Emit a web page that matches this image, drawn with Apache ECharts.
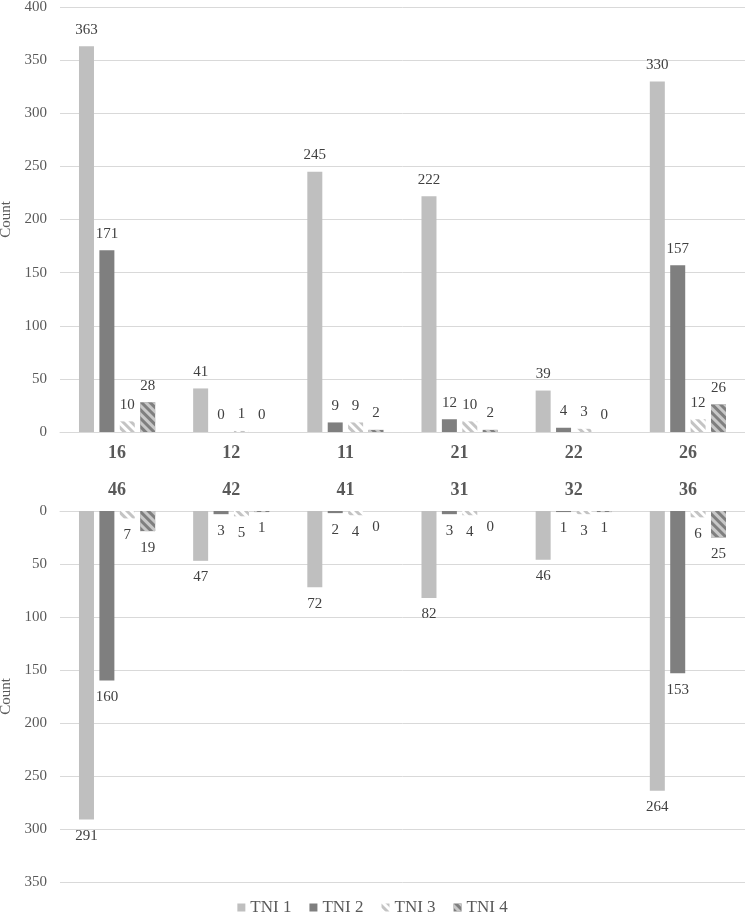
<!DOCTYPE html>
<html>
<head>
<meta charset="utf-8">
<script src="https://cdn.jsdelivr.net/npm/echarts@6/dist/echarts.min.js"></script>
<style>
  html, body { margin: 0; padding: 0; background: #fff; }
  #chart { width: 745px; height: 924px; }
</style>
</head>
<body>
<div id="chart"></div>
<script>
// upper jaw teeth and lower jaw teeth
const topTeeth = ['16', '12', '11', '21', '22', '26']
const bottomTeeth = ['46', '42', '41', '31', '32', '36']
const seriesNames = ['TNI 1', 'TNI 2', 'TNI 3', 'TNI 4']

const topTNI1 = [363, 41, 245, 222, 39, 330]
const topTNI2 = [171, 0, 9, 12, 4, 157]
const topTNI3 = [10, 1, 9, 10, 3, 12]
const topTNI4 = [28, 0, 2, 2, 0, 26]

const bottomTNI1 = [291, 47, 72, 82, 46, 264]
const bottomTNI2 = [160, 3, 2, 3, 1, 153]
const bottomTNI3 = [7, 5, 4, 4, 3, 6]
const bottomTNI4 = [19, 1, 0, 0, 1, 25]

const FONT = 'Liberation Serif'

// diagonal stripes via echarts decal
function stripes(fg) {
  return {
    symbol: 'rect',
    symbolSize: 1,
    color: fg,
    dashArrayX: [1, 0],
    dashArrayY: [3, 3],
    rotation: Math.PI / 4,
  }
}

const styles = [
  { color: '#BFBFBF' },
  { color: '#7F7F7F' },
  { color: '#FFFFFF', decal: stripes('#C4C4C4') },
  { color: '#7F7F7F', decal: stripes('#C8C8C8') },
]

const topData = [topTNI1, topTNI2, topTNI3, topTNI4]
const bottomData = [bottomTNI1, bottomTNI2, bottomTNI3, bottomTNI4]

function makeSeries(data, idx, grid) {
  return {
    name: seriesNames[idx],
    type: 'bar',
    xAxisIndex: grid,
    yAxisIndex: grid,
    data: data,
    barWidth: 15,
    barGap: '36%',
    itemStyle: styles[idx],
    label: {
      show: true,
      position: grid === 0 ? 'top' : 'bottom',
      distance: 9,
      color: '#404040',
      fontFamily: FONT,
      fontSize: 15,
    },
  }
}

const series = []
topData.forEach((d, i) => series.push(makeSeries(d, i, 0)))
bottomData.forEach((d, i) => series.push(makeSeries(d, i, 1)))

const yAxisCommon = {
  type: 'value',
  min: 0,
  interval: 50,
  name: 'Count',
  nameLocation: 'middle',
  nameGap: 30,
  nameTextStyle: { fontFamily: FONT, fontSize: 15, color: '#595959' },
  axisLine: { show: false },
  axisTick: { show: false },
  axisLabel: { fontFamily: FONT, fontSize: 15, color: '#595959', margin: 13 },
  splitLine: { lineStyle: { color: '#D9D9D9', width: 1 } },
}

const xAxisCommon = {
  type: 'category',
  axisTick: { show: false },
  axisLine: { lineStyle: { color: '#D9D9D9', width: 1 } },
  axisLabel: {
    fontFamily: FONT,
    fontSize: 18,
    fontWeight: 'bold',
    color: '#595959',
    margin: 12,
  },
}

const chart = echarts.init(document.getElementById('chart'))
chart.setOption({
  animation: false,
  backgroundColor: '#fff',
  legend: {
    data: seriesNames,
    bottom: 3,
    left: 'center',
    itemWidth: 8,
    itemHeight: 8,
    itemGap: 18,
    icon: 'rect',
    textStyle: { fontFamily: FONT, fontSize: 17, color: '#595959' },
  },
  grid: [
    { left: 60, right: 0, top: 7, height: 425, outerBoundsMode: 'none' },
    { left: 60, right: 0, top: 511, height: 371, outerBoundsMode: 'none' },
  ],
  xAxis: [
    Object.assign({}, xAxisCommon, { gridIndex: 0, data: topTeeth, position: 'bottom' }),
    Object.assign({}, xAxisCommon, { gridIndex: 1, data: bottomTeeth, position: 'top' }),
  ],
  yAxis: [
    Object.assign({}, yAxisCommon, { gridIndex: 0, max: 400 }),
    Object.assign({}, yAxisCommon, { gridIndex: 1, max: 350, inverse: true }),
  ],
  series: series,
})
</script>
</body>
</html>
